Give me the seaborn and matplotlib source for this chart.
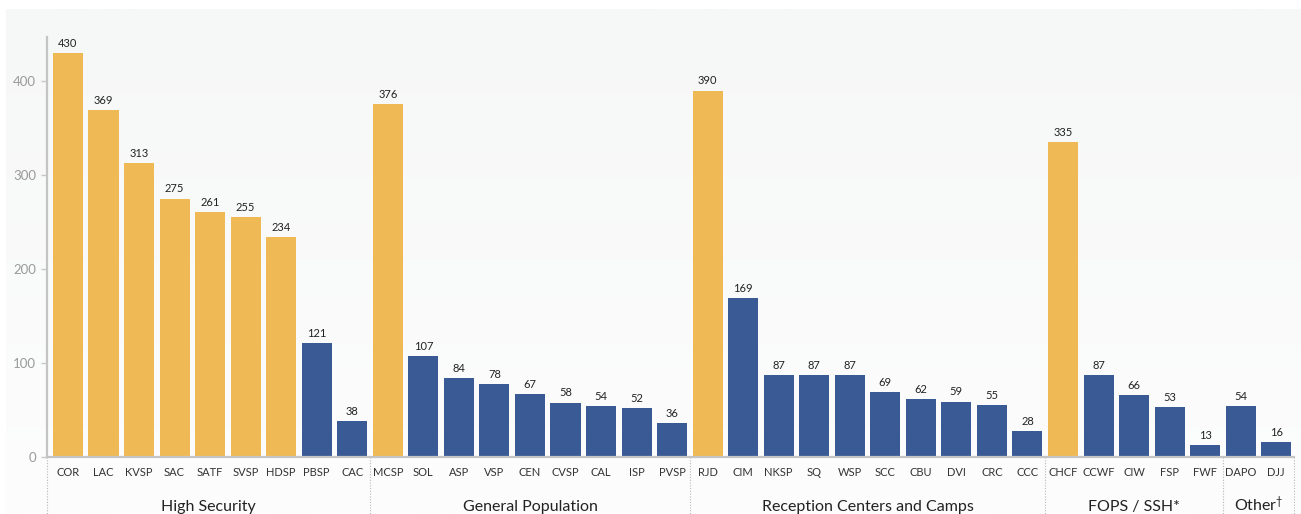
import numpy as np
import pandas as pd
import matplotlib
matplotlib.use("Agg")
import matplotlib.pyplot as plt
import seaborn as sns

# Facility codes, counts and grouping
facilities = ["COR", "LAC", "KVSP", "SAC", "SATF", "SVSP", "HDSP", "PBSP", "CAC",
              "MCSP", "SOL", "ASP", "VSP", "CEN", "CVSP", "CAL", "ISP", "PVSP",
              "RJD", "CIM", "NKSP", "SQ", "WSP", "SCC", "CBU", "DVI", "CRC", "CCC",
              "CHCF", "CCWF", "CIW", "FSP", "FWF",
              "DAPO", "DJJ"]
counts = [430, 369, 313, 275, 261, 255, 234, 121, 38,
          376, 107, 84, 78, 67, 58, 54, 52, 36,
          390, 169, 87, 87, 87, 69, 62, 59, 55, 28,
          335, 87, 66, 53, 13,
          54, 16]
highlighted = ["COR", "LAC", "KVSP", "SAC", "SATF", "SVSP", "HDSP",
               "MCSP", "RJD", "CHCF"]
group_names = ["High Security", "General Population",
               "Reception Centers and Camps", "FOPS / SSH*", "Other$^{\u2020}$"]
group_sizes = [9, 9, 10, 5, 2]
y_ticks = [0, 100, 200, 300, 400]

GOLD = "#EFBA55"
BLUE = "#3A5A95"

df = pd.DataFrame({
    "facility": facilities,
    "count": counts,
    "tier": ["high" if f in highlighted else "base" for f in facilities],
})

sns.set_theme(style="white")
plt.rcParams["font.family"] = ["Lato", "DejaVu Sans"]
plt.rcParams["mathtext.fontset"] = "custom"
plt.rcParams["mathtext.rm"] = "Lato"
plt.rcParams["mathtext.default"] = "rm"

fig = plt.figure(figsize=(13.01, 5.14), dpi=100)
W, H = 1301, 514

# soft grey panel behind the chart, fading lighter toward the bottom
bg = fig.add_axes([6 / W, 0, 1 - 6 / W, 1 - 9 / H], zorder=0)
grad = np.linspace(0, 1, 256).reshape(-1, 1)
cmap = matplotlib.colors.LinearSegmentedColormap.from_list(
    "panel", ["#f6f7f7", "#fdfdfd"])
bg.imshow(grad, aspect="auto", cmap=cmap, extent=[0, 1, 0, 1])
bg.set_axis_off()

left, right = 47 / W, 1294 / W
bottom, top = (H - 457) / H, (H - 37) / H
ax = fig.add_axes([left, bottom, right - left, top - bottom], zorder=1)
ax.patch.set_alpha(0)

sns.barplot(data=df, x="facility", y="count", hue="tier",
            palette={"high": GOLD, "base": BLUE}, dodge=False,
            width=0.845, legend=False, ax=ax, saturation=1, linewidth=0)

ax.set_xlim(-0.59, len(facilities) - 0.5)
ax.set_ylim(0, 447)
ax.set_xlabel("")
ax.set_ylabel("")
ax.set_yticks(y_ticks)
ax.set_yticklabels([str(t) for t in y_ticks], color="#9a9a9a", fontsize=9.5)
ax.tick_params(axis="y", length=4, width=1, color="#c8c8c8", pad=4, left=True)
ax.set_xticks(range(len(facilities)))
ax.set_xticklabels(facilities, fontsize=8, color="#333333")
ax.tick_params(axis="x", length=0, pad=7)

for s in ["top", "right"]:
    ax.spines[s].set_visible(False)
ax.spines["left"].set_color("#c4c4c4")
ax.spines["left"].set_linewidth(1.6)
ax.spines["bottom"].set_color("#c4c4c4")
ax.spines["bottom"].set_linewidth(1.6)

# value labels above each bar
for i, v in enumerate(counts):
    ax.annotate(str(v), (i, v), xytext=(0, 3), textcoords="offset points",
                ha="center", va="bottom", fontsize=8, color="#222222")

# group separators and group titles beneath the axis
bounds = [-0.59]
edge = -0.5
for n in group_sizes:
    edge += n
    bounds.append(edge)
trans = matplotlib.transforms.blended_transform_factory(ax.transData, ax.transAxes)
for b in bounds:
    ax.plot([b, b], [0, -0.2], transform=trans, clip_on=False,
            color="#b8b8b8", lw=0.8, ls=(0, (1, 1.5)))
for name, a, b in zip(group_names, bounds[:-1], bounds[1:]):
    ax.text((a + b) / 2, -(511 - 457) / 420, name, transform=trans,
            ha="center", va="baseline", fontsize=11.5, color="#222222",
            clip_on=False)

fig.savefig("out.png", dpi=100)
